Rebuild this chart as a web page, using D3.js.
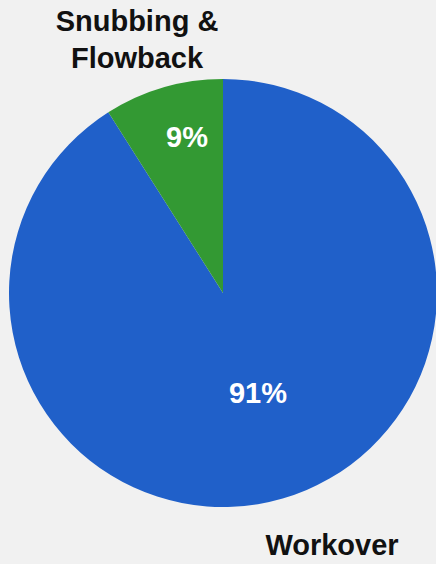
<!DOCTYPE html>
<html><head><meta charset="utf-8">
<script src="https://cdn.jsdelivr.net/npm/d3@7"></script>
<style>html,body{margin:0;padding:0;background:#f1f1f1;}svg{display:block;}</style>
</head><body>
<script>
const categories = ["Workover", "Snubbing & Flowback"];
const values = [91, 9];
const colors = ["#2060c9", "#339933"];

const W = 436, H = 564;
const svg = d3.select("body").append("svg").attr("width", W).attr("height", H);
const cx = 223, cy = 293, r = 214;
const arcs = d3.pie().sort(null)(values);
const arc = d3.arc().innerRadius(0).outerRadius(r);
const g = svg.append("g").attr("transform", `translate(${cx},${cy})`);
g.selectAll("path").data(arcs).join("path")
  .attr("d", arc).attr("fill", (d, i) => colors[i]);

const font = "Liberation Sans, Arial, sans-serif";
const fs = 29;
// percent labels
const pctPos = [[258 - cx, 393 - cy], [187 - cx, 137 - cy]];
g.selectAll("text.pct").data(arcs).join("text").attr("class", "pct")
  .attr("x", (d, i) => pctPos[i][0]).attr("y", (d, i) => pctPos[i][1])
  .attr("text-anchor", "middle").attr("dominant-baseline", "central")
  .attr("fill", "#fff").attr("font-family", font).attr("font-weight", "bold")
  .attr("font-size", fs).text(d => d.data + "%");

// category labels
const lbl = (x, y, t) => svg.append("text").attr("x", x).attr("y", y).attr("text-anchor", "middle")
  .attr("font-family", font).attr("font-weight", "bold").attr("font-size", fs).attr("fill", "#111").text(t);
lbl(137, 31, "Snubbing\u00a0&");
lbl(137, 68, "Flowback");
lbl(332, 555, categories[0]);
</script>
</body></html>
